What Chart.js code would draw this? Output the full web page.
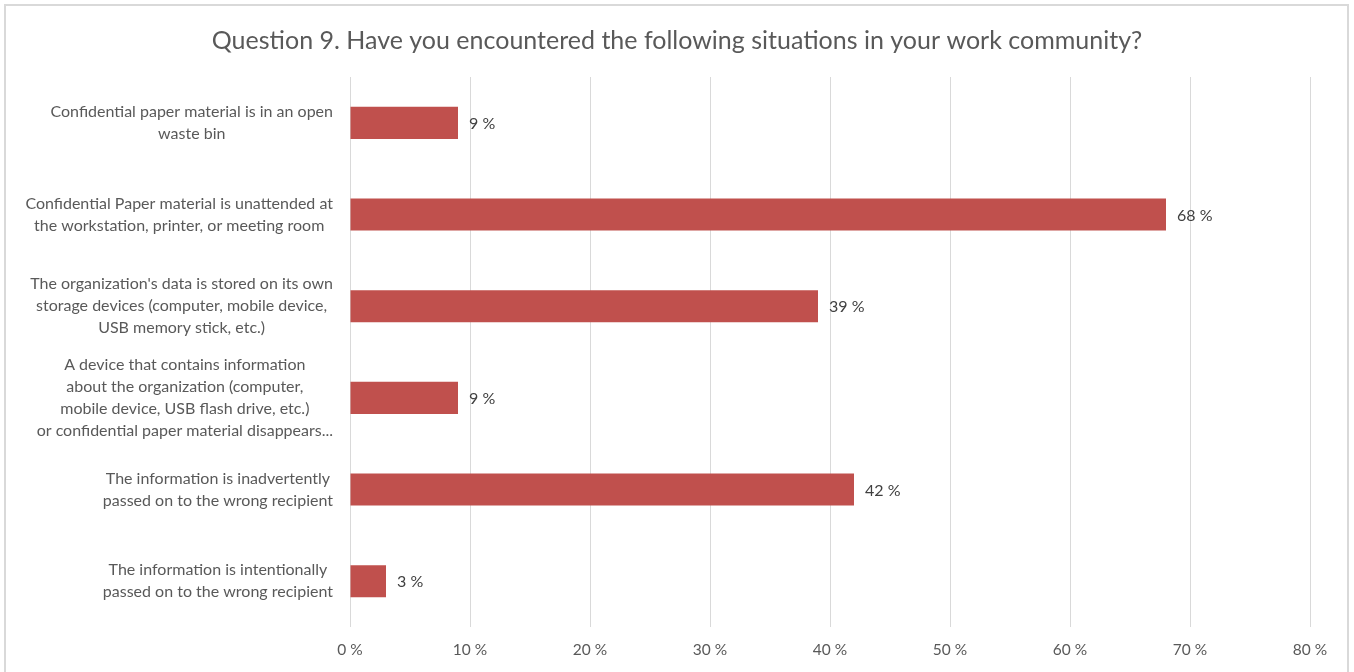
<!DOCTYPE html>
<html>
<head>
<meta charset="utf-8">
<script src="https://cdn.jsdelivr.net/npm/chart.js@4"></script>
<style>
    html, body { margin: 0; padding: 0; background: #fff; }
    #wrap { position: absolute; left: 0; top: 0; width: 1354px; height: 672px; }
</style>
</head>
<body>
<div id="wrap"><canvas id="chart"></canvas></div>
<script>
// --- Data ---
const chartTitle = 'Question 9. Have you encountered the following situations in your work community?';
const categories = [
    ['Confidential paper material is in an open', 'waste bin'],
    ['Confidential Paper material is unattended at', 'the workstation, printer, or meeting room'],
    ["The organization's data is stored on its own", 'storage devices (computer, mobile device,', 'USB memory stick, etc.)'],
    ['A device that contains information', 'about the organization (computer,', 'mobile device, USB flash drive, etc.)', 'or confidential paper material disappears...'],
    ['The information is inadvertently', 'passed on to the wrong recipient'],
    ['The information is intentionally', 'passed on to the wrong recipient']
];
const percentages = [9, 68, 39, 9, 42, 3];
const xTicks = [0, 10, 20, 30, 40, 50, 60, 70, 80];

const FONT = 'Lato, "Open Sans", sans-serif';
const TEXT = '#595959';

// Frame round the whole chart, plus the title centred on the canvas
const framePlugin = {
    id: 'frame',
    beforeDraw(chart) {
        const ctx = chart.ctx;
        ctx.save();
        ctx.strokeStyle = '#d9d9d9';
        ctx.lineWidth = 2;
        ctx.strokeRect(5, 5, 1343, 700);
        ctx.font = '25px ' + FONT;
        ctx.fillStyle = TEXT;
        ctx.textAlign = 'center';
        ctx.textBaseline = 'middle';
        ctx.fillText(chartTitle, chart.width / 2, 41);
        ctx.restore();
    }
};

// Category labels: block right-aligned against the plot, lines centred inside the block
const categoryLabels = {
    id: 'categoryLabels',
    afterDraw(chart) {
        const ctx = chart.ctx;
        const y = chart.scales.y;
        const right = chart.chartArea.left - 17;
        const lineH = 22;
        ctx.save();
        ctx.font = '16px ' + FONT;
        ctx.fillStyle = TEXT;
        ctx.textAlign = 'center';
        ctx.textBaseline = 'middle';
        categories.forEach((lines, i) => {
            const w = Math.max(...lines.map(l => ctx.measureText(l).width));
            const cx = right - w / 2;
            const cy = y.getPixelForTick(i);
            const top = cy - (lines.length - 1) * lineH / 2;
            lines.forEach((l, j) => ctx.fillText(l, cx, top + j * lineH));
        });
        ctx.restore();
    }
};

// Value labels at the end of each bar
const valueLabels = {
    id: 'valueLabels',
    afterDatasetsDraw(chart) {
        const ctx = chart.ctx;
        const meta = chart.getDatasetMeta(0);
        ctx.save();
        ctx.font = '16px ' + FONT;
        ctx.fillStyle = '#404040';
        ctx.textAlign = 'left';
        ctx.textBaseline = 'middle';
        meta.data.forEach((bar, i) => {
            ctx.fillText(percentages[i] + ' %', bar.x + 11, bar.y + 1);
        });
        ctx.restore();
    }
};

new Chart(document.getElementById('chart'), {
    type: 'bar',
    data: {
        labels: categories,
        datasets: [{
            data: percentages,
            backgroundColor: '#c0504d',
            barPercentage: 0.35,
            categoryPercentage: 1
        }]
    },
    options: {
        indexAxis: 'y',
        responsive: true,
        maintainAspectRatio: false,
        animation: false,
        layout: { padding: { left: 0, right: 44, top: 77, bottom: 0 } },
        scales: {
            x: {
                min: 0,
                max: 80,
                afterBuildTicks: s => { s.ticks = xTicks.map(v => ({ value: v })); },
                afterFit: s => { s.height = 45; },
                grid: { color: '#d9d9d9', lineWidth: 1, drawTicks: false },
                border: { display: false },
                ticks: {
                    padding: 14,
                    color: TEXT,
                    font: { family: FONT, size: 15.5 },
                    callback: v => v + ' %'
                }
            },
            y: {
                afterFit: s => { s.width = 350; },
                grid: { display: false },
                border: { display: false },
                ticks: { display: false }
            }
        },
        plugins: {
            legend: { display: false },
            tooltip: { enabled: false },
            title: { display: false }
        }
    },
    plugins: [framePlugin, categoryLabels, valueLabels]
});
</script>
</body>
</html>
